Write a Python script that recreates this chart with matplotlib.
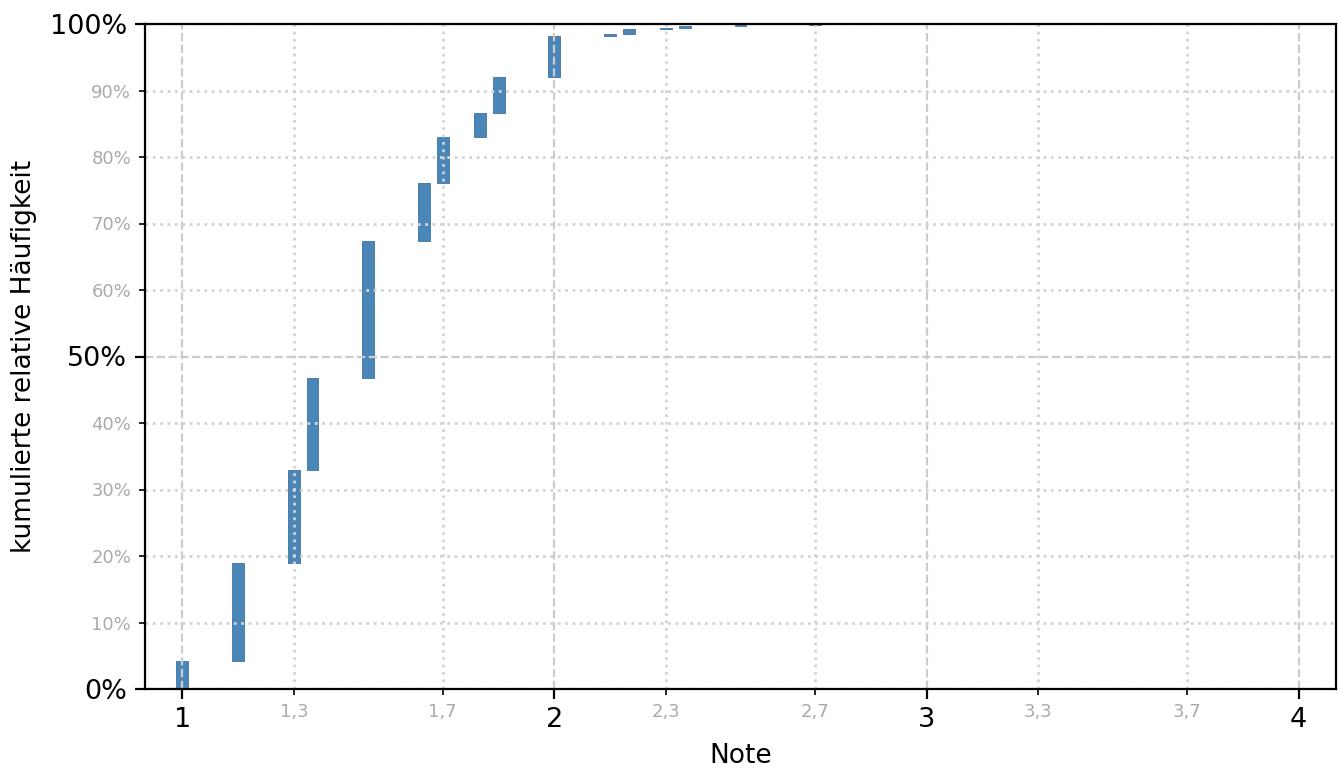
import numpy as np
import matplotlib
matplotlib.use('Agg')
from matplotlib import pyplot as plt
from matplotlib.ticker import FixedLocator, FuncFormatter

# Noten und relative Häufigkeit je Note (in %)
noten = [1.0, 1.15, 1.3, 1.35, 1.5, 1.65, 1.7, 1.8, 1.85, 2.0,
         2.15, 2.2, 2.3, 2.35, 2.5, 2.7]
anteile = [4.2, 14.7, 14.0, 13.9, 20.6, 8.7, 6.9, 3.6, 5.4, 6.2,
           0.35, 0.65, 0.25, 0.2, 0.25, 0.1]

x_major = [1, 2, 3, 4]
x_minor = [1.3, 1.7, 2.3, 2.7, 3.3, 3.7]
y_major = [0, 50, 100]
y_minor = [10, 20, 30, 40, 60, 70, 80, 90]

if __name__ == "__main__":
    oben = np.cumsum(anteile)
    unten = oben - np.array(anteile)

    fig = plt.figure(figsize=(13.41, 7.74), dpi=100)
    ax = fig.add_axes([145 / 1341, 1 - 689 / 774, 1191 / 1341, 665 / 774])
    ax.bar(noten, anteile, bottom=unten, width=0.032, color='#4a86b8',
           edgecolor='#3d72a0', linewidth=0.6)

    ax.set_xlim(0.9, 4.1)
    ax.set_ylim(0, 100)

    ax.xaxis.set_major_locator(FixedLocator(x_major))
    ax.xaxis.set_minor_locator(FixedLocator(x_minor))
    ax.yaxis.set_major_locator(FixedLocator(y_major))
    ax.yaxis.set_minor_locator(FixedLocator(y_minor))
    komma = FuncFormatter(lambda v, p: ('%g' % v).replace('.', ','))
    ax.xaxis.set_major_formatter(komma)
    ax.xaxis.set_minor_formatter(komma)
    prozent = FuncFormatter(lambda v, p: '%d%%' % v)
    ax.yaxis.set_major_formatter(prozent)
    ax.yaxis.set_minor_formatter(prozent)

    ax.tick_params(which='major', labelsize=19.5, length=7, width=1.6, pad=6)
    ax.tick_params(which='minor', labelsize=13, labelcolor='#aaaaaa',
                   length=4, width=1.2, pad=6)
    ax.grid(which='major', color='#cccccc', linestyle='--', linewidth=1.6)
    ax.grid(which='minor', color='#d4d4d4', linestyle=':', linewidth=2.0)
    ax.set_axisbelow(False)
    for s in ax.spines.values():
        s.set_linewidth(1.6)
        s.set_zorder(4)

    ax.set_xlabel('Note', fontsize=19, labelpad=7)
    ax.set_ylabel('kumulierte relative Häufigkeit', fontsize=19, labelpad=9)

    fig.savefig('out.png', dpi=100)
